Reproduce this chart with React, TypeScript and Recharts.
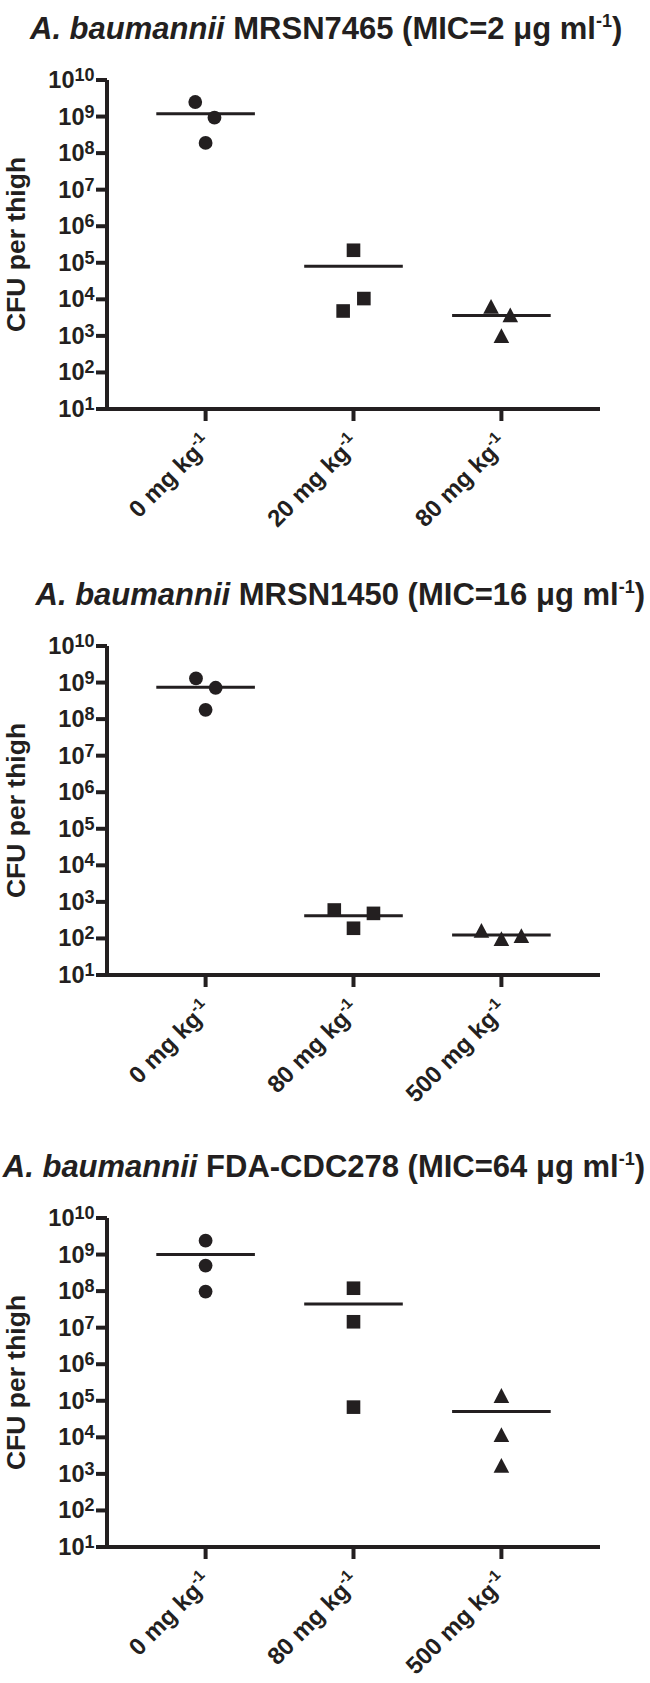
import React from 'react'
import { ScatterChart, Scatter, XAxis, YAxis, ReferenceLine } from 'recharts'

const INK = '#231f20'
const FONT = "'Liberation Sans', Arial, Helvetica, sans-serif"

const yTicks = [1e1, 1e2, 1e3, 1e4, 1e5, 1e6, 1e7, 1e8, 1e9, 1e10]
const xTicks = [0, 1, 2]

// A. baumannii MRSN7465
const doses1 = ['0', '20', '80']
const circles1 = [2.5e9, 9.3e8, 1.9e8]
const squares1 = [2.2e5, 1.05e4, 4.8e3]
const triangles1 = [6e3, 3.5e3, 9.5e2]
const means1 = [1.2e9, 8e4, 3.6e3]
const spread1 = [[-0.07, 0.06, 0], [0, 0.07, -0.07], [-0.07, 0.06, 0]]

// A. baumannii MRSN1450
const doses2 = ['0', '80', '500']
const circles2 = [1.3e9, 7.2e8, 1.8e8]
const squares2 = [600, 485, 190]
const triangles2 = [155, 92, 112]
const means2 = [7.4e8, 420, 124]
const spread2 = [[-0.065, 0.068, 0], [-0.13, 0.135, 0], [-0.135, 0, 0.135]]

// A. baumannii FDA-CDC278
const doses3 = ['0', '80', '500']
const circles3 = [2.4e9, 5e8, 9.7e7]
const squares3 = [1.2e8, 1.45e7, 6.7e4]
const triangles3 = [1.3e5, 1.1e4, 1.6e3]
const means3 = [1.0e9, 4.45e7, 5.1e4]
const spread3 = [[0, 0, 0], [0, 0, 0], [0, 0, 0]]

const PLOT_H = 329
const TOP_PAD = 30
const X_AXIS_H = 145

const toPoints = (vals: number[], cat: number, spread: number[]) =>
  vals.map((v, i) => ({ x: cat + spread[i], y: v }))

const Dot = (p: any) => <circle cx={p.cx} cy={p.cy} r={6.9} fill={INK} />
const Box = (p: any) => (
  <rect x={p.cx - 6.8} y={p.cy - 6.8} width={13.6} height={13.6} fill={INK} />
)
const Tri = (p: any) => (
  <polygon
    points={`${p.cx},${p.cy - 8.5} ${p.cx + 7.8},${p.cy + 6.3} ${p.cx - 7.8},${p.cy + 6.3}`}
    fill={INK}
  />
)

const YTick = ({ x, y, payload }: any) => {
  const exp = Math.round(Math.log10(payload.value))
  return (
    <text x={x} y={y + 8} textAnchor="end" fill={INK} fontFamily={FONT} fontWeight="bold">
      <tspan fontSize={23.5}>10</tspan>
      <tspan fontSize={18} dy={-7}>
        {exp}
      </tspan>
    </text>
  )
}

const makeXTick = (doses: string[]) => ({ x, y, payload }: any) => (
  <g transform={`translate(${x + 7},${y + 24})`}>
    <text transform="rotate(-45)" textAnchor="end" fill={INK} fontFamily={FONT} fontWeight="bold">
      <tspan fontSize={24}>{doses[payload.value]} mg kg</tspan>
      <tspan fontSize={15.5} dy={-10}>
        -1
      </tspan>
    </text>
  </g>
)

const YLabel = ({ viewBox }: any) => {
  const cy = viewBox.y + viewBox.height / 2
  return (
    <text
      x={25}
      y={cy}
      transform={`rotate(-90, 25, ${cy})`}
      textAnchor="middle"
      fill={INK}
      fontFamily={FONT}
      fontWeight="bold"
      fontSize={26.5}
    >
      CFU per thigh
    </text>
  )
}

type PanelProps = {
  plotTop: number
  doses: string[]
  circles: number[]
  squares: number[]
  triangles: number[]
  means: number[]
  spread: number[][]
}

const Panel = ({ plotTop, doses, circles, squares, triangles, means, spread }: PanelProps) => (
  <div style={{ position: 'absolute', left: 0, top: plotTop - TOP_PAD }}>
    <ScatterChart
      width={650}
      height={TOP_PAD + PLOT_H + X_AXIS_H}
      margin={{ top: TOP_PAD, right: 50, left: 0, bottom: 0 }}
    >
      <XAxis
        type="number"
        dataKey="x"
        domain={[-2 / 3, 8 / 3]}
        ticks={xTicks}
        allowDataOverflow
        height={X_AXIS_H}
        axisLine={{ stroke: INK, strokeWidth: 4 }}
        tickLine={{ stroke: INK, strokeWidth: 4 }}
        tickSize={12}
        tickMargin={0}
        tick={makeXTick(doses)}
        interval={0}
      />
      <YAxis
        type="number"
        dataKey="y"
        scale="log"
        domain={[10, 1e10]}
        ticks={yTicks}
        allowDataOverflow
        width={107}
        axisLine={{ stroke: INK, strokeWidth: 4 }}
        tickLine={{ stroke: INK, strokeWidth: 4 }}
        tickSize={11}
        tickMargin={1.5}
        tick={YTick}
        interval={0}
        label={{ content: YLabel }}
      />
      {means.map((m, i) => (
        <ReferenceLine
          key={i}
          segment={[
            { x: i - 1 / 3, y: m },
            { x: i + 1 / 3, y: m }
          ]}
          stroke={INK}
          strokeWidth={3}
        />
      ))}
      <Scatter data={toPoints(circles, 0, spread[0])} shape={Dot} isAnimationActive={false} />
      <Scatter data={toPoints(squares, 1, spread[1])} shape={Box} isAnimationActive={false} />
      <Scatter data={toPoints(triangles, 2, spread[2])} shape={Tri} isAnimationActive={false} />
    </ScatterChart>
  </div>
)

type TitleProps = { x: number; y: number; anchor: 'start' | 'end'; strain: string; mic: string }

const Title = ({ x, y, anchor, strain, mic }: TitleProps) => (
  <text
    x={x}
    y={y}
    textAnchor={anchor}
    fill={INK}
    fontFamily={FONT}
    fontWeight="bold"
    fontSize={31}
  >
    <tspan fontStyle="italic">A. baumannii</tspan>
    <tspan>{` ${strain} (MIC=${mic} μg ml`}</tspan>
    <tspan fontSize={18} dy={-12}>
      -1
    </tspan>
    <tspan dy={12}>)</tspan>
  </text>
)

const App: React.FC = () => {
  return (
    <div
      style={{
        position: 'absolute',
        left: 0,
        top: 0,
        width: 650,
        height: 1683,
        overflow: 'hidden',
        background: '#fff'
      }}
    >
      <svg
        width={650}
        height={1683}
        style={{ position: 'absolute', left: 0, top: 0 }}
      >
        <Title x={30} y={39} anchor="start" strain="MRSN7465" mic="2" />
        <Title x={645} y={605} anchor="end" strain="MRSN1450" mic="16" />
        <Title x={645} y={1177} anchor="end" strain="FDA-CDC278" mic="64" />
      </svg>
      <Panel
        plotTop={80}
        doses={doses1}
        circles={circles1}
        squares={squares1}
        triangles={triangles1}
        means={means1}
        spread={spread1}
      />
      <Panel
        plotTop={646}
        doses={doses2}
        circles={circles2}
        squares={squares2}
        triangles={triangles2}
        means={means2}
        spread={spread2}
      />
      <Panel
        plotTop={1218}
        doses={doses3}
        circles={circles3}
        squares={squares3}
        triangles={triangles3}
        means={means3}
        spread={spread3}
      />
    </div>
  )
}

export default App
